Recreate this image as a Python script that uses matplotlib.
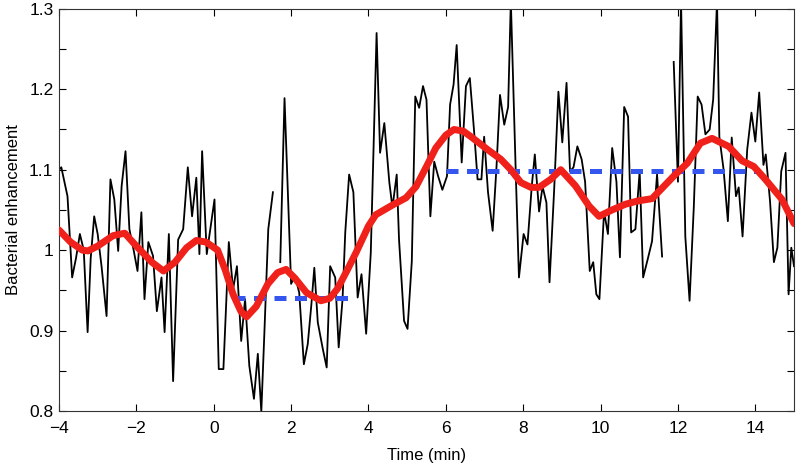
import numpy as np
import matplotlib
matplotlib.use("Agg")
import matplotlib.pyplot as plt
from matplotlib.ticker import MultipleLocator, FixedLocator

# raw trace (time in min, enhancement); nan marks gaps in the recording
time_raw = [
    -4.0, -3.94, -3.78, -3.66, -3.56, -3.46, -3.36, -3.26, -3.18, -3.09, -3.0, -2.90,
    -2.77, -2.67, -2.57, -2.47, -2.38, -2.28, -2.18, -2.07, -1.97, -1.87, -1.79, -1.69,
    -1.57, -1.47, -1.35, -1.27, -1.16, -1.05, -0.92, -0.79, -0.67, -0.56, -0.45, -0.37,
    -0.30, -0.18, 0.02, 0.13, 0.25, 0.39, 0.50, 0.60, 0.71, 0.81, 0.92, 1.04,
    1.14, 1.23, 1.31, 1.41, 1.53, 1.62, 1.72, 1.83, 2.0, 2.10, 2.21, 2.33,
    2.43, 2.52, 2.60, 2.69, 2.82, 2.92, 3.01, 3.14, 3.23, 3.33, 3.40, 3.50,
    3.61, 3.72, 3.82, 3.94, 4.06, 4.21, 4.30, 4.41, 4.54, 4.62, 4.73, 4.79,
    4.92, 5.01, 5.12, 5.21, 5.31, 5.41, 5.50, 5.60, 5.70, 5.80, 5.91, 6.03,
    6.11, 6.20, 6.28, 6.41, 6.52, 6.62, 6.73, 6.82, 6.92, 6.99, 7.09, 7.21,
    7.31, 7.40, 7.51, 7.61, 7.68, 7.81, 7.89, 8.01, 8.11, 8.22, 8.30, 8.41,
    8.50, 8.60, 8.68, 8.80, 8.91, 9.01, 9.12, 9.21, 9.30, 9.40, 9.51, 9.60,
    9.72, 9.81, 9.89, 9.97, 10.09, 10.19, 10.30, 10.41, 10.50, 10.61, 10.71, 10.79,
    10.90, 11.01, 11.10, 11.22, 11.33, 11.46, 11.59, 11.74, 11.89, 12.0, 12.08, 12.19,
    12.30, 12.41, 12.51, 12.61, 12.71, 12.82, 12.91, 13.01, 13.07, 13.18, 13.29, 13.39,
    13.50, 13.57, 13.67, 13.79, 13.90, 14.00, 14.10, 14.21, 14.27, 14.38, 14.48, 14.57,
    14.67, 14.78, 14.86, 14.93, 15.0,
]
enh_raw = [
    1.10, 1.103, 1.067, 0.966, 0.99, 1.02, 1.0, 0.898, 0.99, 1.042, 1.02, 0.98,
    0.918, 1.088, 1.063, 0.999, 1.08, 1.123, 1.026, 1.0, 0.974, 1.047, 0.939, 1.01,
    0.993, 0.924, 0.966, 0.898, 1.02, 0.837, 1.013, 1.026, 1.103, 1.042, 1.09, 0.995,
    1.123, 0.995, 1.063, 0.852, 0.852, 1.01, 0.951, 0.98, 0.887, 0.939, 0.856, 0.815,
    0.871, 0.799, 0.898, 1.026, 1.072, np.nan, 0.985, 1.189, 0.958, 0.968, 0.947, 0.858,
    0.883, 0.93, 0.978, 0.910, 0.877, 0.854, 0.980, 0.966, 0.879, 0.939, 1.022, 1.094,
    1.072, 0.941, 0.970, 0.896, 0.997, 1.270, 1.121, 1.158, 1.084, 1.053, 1.094, 1.013,
    0.912, 0.902, 0.986, 1.191, 1.177, 1.204, 1.187, 1.042, 1.11, 1.092, 1.075, 1.092,
    1.181, 1.206, 1.255, 1.109, 1.204, 1.214, 1.148, 1.088, 1.088, 1.141, 1.072, 1.024,
    1.104, 1.193, 1.156, 1.178, 1.31, 1.092, 0.966, 1.02, 1.007, 1.079, 1.119, 1.048,
    1.079, 1.059, 0.960, 1.075, 1.197, 1.134, 1.208, 1.098, 1.103, 1.129, 1.113, 1.085,
    0.974, 0.985, 0.945, 0.939, 1.048, 1.020, 1.127, 1.085, 0.991, 1.178, 1.166, 1.022,
    1.026, 1.098, 0.966, 0.989, 1.011, 1.094, 0.992, np.nan, 1.234, 1.085, 1.31, 1.017,
    0.937, 1.054, 1.191, 1.181, 1.144, 1.150, 1.187, 1.31, 1.141, 1.100, 1.036, 1.140,
    1.067, 1.078, 1.017, 1.125, 1.171, 1.135, 1.196, 1.106, 1.119, 1.061, 0.985, 1.003,
    1.098, 1.121, 0.945, 1.003, 0.98,
]

# smoothed trace
time_smooth = [
    -4.0, -3.7, -3.4, -3.25, -3.0, -2.6, -2.3, -2.0, -1.6, -1.3, -1.0, -0.7,
    -0.45, -0.2, 0.1, 0.3, 0.5, 0.7, 0.85, 1.1, 1.4, 1.65, 1.87, 2.1,
    2.4, 2.77, 3.0, 3.2, 3.45, 3.68, 4.0, 4.19, 4.62, 4.97, 5.23, 5.5,
    5.74, 6.0, 6.21, 6.45, 6.65, 7.08, 7.42, 7.68, 7.94, 8.2, 8.41, 8.71,
    8.97, 9.35, 9.7, 9.96, 10.3, 10.64, 10.95, 11.33, 11.63, 11.89, 12.24, 12.58,
    12.88, 13.05, 13.31, 13.66, 13.96, 14.26, 14.69, 15.0,
]
enh_smooth = [
    1.025, 1.010, 1.0, 0.999, 1.005, 1.018, 1.021, 1.005, 0.985, 0.974, 0.985, 1.003,
    1.012, 1.01, 1.0, 0.975, 0.945, 0.924, 0.917, 0.93, 0.958, 0.972, 0.976, 0.965,
    0.947, 0.937, 0.94, 0.952, 0.975, 0.997, 1.03, 1.044, 1.056, 1.065, 1.079, 1.104,
    1.127, 1.143, 1.15, 1.148, 1.141, 1.125, 1.113, 1.10, 1.084, 1.078, 1.078, 1.088,
    1.10, 1.08, 1.055, 1.042, 1.05, 1.057, 1.061, 1.064, 1.079, 1.092, 1.108, 1.133,
    1.139, 1.135, 1.129, 1.111, 1.104, 1.088, 1.063, 1.033,
]

# mean levels before / after
level_starts = [0.5, 6.0]
level_ends = [3.55, 14.05]
level_values = [0.94, 1.098]

plt.rcParams["font.family"] = ["Liberation Sans", "DejaVu Sans"]

fig = plt.figure(figsize=(7.96, 4.68), dpi=100)
ax = fig.add_axes([0.0741, 0.122, 0.9234, 0.859])

ax.plot(time_raw, enh_raw, color="black", lw=1.3, zorder=1)
for x0, x1, v in zip(level_starts, level_ends, level_values):
    ax.plot([x0, x1], [v, v], color="#3556ee", lw=3.6, dashes=(2.4, 1.7), zorder=2)
ax.plot(time_smooth, enh_smooth, color="#f0201a", lw=5, solid_capstyle="round", zorder=3)

ax.set_xlim(-4, 15)
ax.set_ylim(0.8, 1.3)
ax.xaxis.set_major_locator(MultipleLocator(2))
ax.yaxis.set_major_locator(FixedLocator([0.8, 0.9, 1.0, 1.1, 1.2, 1.3]))
ax.yaxis.set_minor_locator(FixedLocator([0.85, 0.95, 1.05, 1.15, 1.25]))
ax.set_yticklabels(["0.8", "0.9", "1", "1.1", "1.2", "1.3"])
ax.set_xticklabels([f"{int(t)}".replace("-", "\u2212") for t in ax.get_xticks()])
ax.tick_params(which="both", direction="in", top=True, right=True, length=5,
               width=0.8, labelsize=12.5, colors="black")
ax.tick_params(axis="x", pad=7)
ax.tick_params(axis="y", pad=4)
for s in ax.spines.values():
    s.set_linewidth(0.8)
    s.set_color("#333333")

ax.set_xlabel("Time (min)", fontsize=12, labelpad=9)
ax.set_ylabel("Bacterial enhancement", fontsize=12, labelpad=6)

fig.savefig("out.png", dpi=100)
